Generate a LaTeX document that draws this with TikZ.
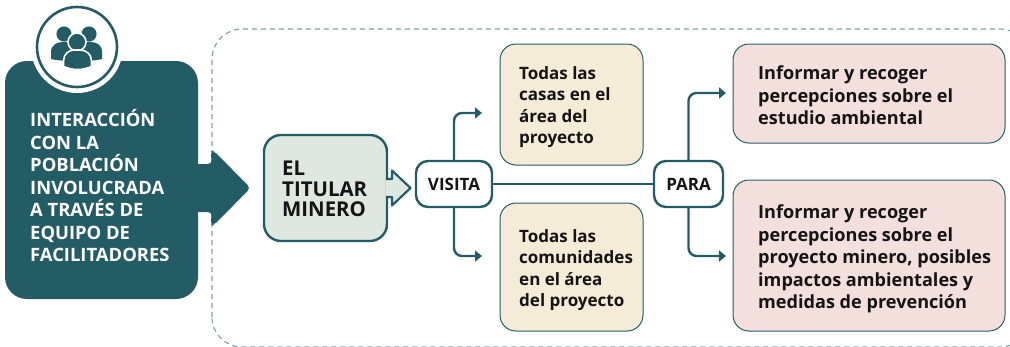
\documentclass[tikz,border=0pt]{standalone}
\usepackage{fontspec}
\setmainfont{Open Sans}
\usetikzlibrary{arrows.meta}
\definecolor{petrol}{HTML}{245C66}
\definecolor{dashline}{HTML}{7FA3AA}
\definecolor{sage}{HTML}{DFE7E1}
\definecolor{sand}{HTML}{F5ECD7}
\definecolor{blush}{HTML}{F3E0DD}
\definecolor{ink}{HTML}{141414}
\tikzset{
	basebox/.style={draw=petrol,anchor=center,inner sep=0pt,align=left,text=ink},
	keybox/.style={basebox,fill=white,line width=2.4pt,rounded corners=12pt,font=\fontsize{17}{20}\selectfont\bfseries},
	infobox/.style={basebox,line width=1pt,rounded corners=16pt},
	boxlabel/.style={inner sep=0pt,align=left,text=ink},
	flowline/.style={draw=petrol,line width=2.4pt,rounded corners=8pt},
	flowarrow/.style={flowline,-{Triangle[length=7pt,width=11pt]}},
}
\begin{document}
\begin{tikzpicture}[
		x={(1pt,0pt)},
		y={(0pt,-1pt)},
	]
	\useasboundingbox (0,0) rectangle (1010,346);
	\draw[dashline,line width=1.2pt,dash pattern=on 5pt off 4pt,rounded corners=30pt] (212,347) rectangle (1030,29);

	\node[fill=petrol,rounded corners=22pt,minimum width=193pt,minimum height=238pt,inner sep=0pt] (panel) at (101.5,180) {};
	\node[anchor=west,inner sep=0pt,align=left,text=white,font=\fontsize{18.4}{22.5}\selectfont\bfseries] (paneltext) at (30,186) {INTERACCIÓN\\CON LA\\POBLACIÓN\\INVOLUCRADA\\A TRAVÉS DE\\EQUIPO DE\\FACILITADORES};

	\node[circle,fill=white,minimum size=92pt,inner sep=0pt] (halo) at (77,47) {};
	\node[circle,draw=petrol,fill=white,line width=2.6pt,minimum size=80pt,inner sep=0pt] (badge) at (77,47) {};
	\foreach \x in {64,89}{
		\fill[petrol] (\x,34) circle (7.6);
	}
	\fill[petrol] (51,59) -- (51,52) .. controls (51,45) and (57,42) .. (63,42) -- (90,42) .. controls (97,42) and (102,45) .. (102,52) -- (102,59) .. controls (90,62) and (64,62) .. (51,59) -- cycle;
	\fill[petrol,draw=white,line width=1.6pt] (77,42) circle (9);
	\fill[petrol,draw=white,line width=1.6pt] (63.5,66.5) -- (63.5,61) .. controls (63.5,54) and (69,50) .. (74,50) -- (80,50) .. controls (86,50) and (91.5,54) .. (91.5,61) -- (91.5,66.5) .. controls (82,70.5) and (73,70.5) .. (63.5,66.5) -- cycle;

	\fill[petrol,rounded corners=4pt] (195,164) -- (212,164) -- (210.5,151) -- (214,151) -- (250.5,188) -- (214,225) -- (210.5,225) -- (212,212) -- (195,212) -- cycle;

	\node[basebox,fill=sage,line width=2.4pt,rounded corners=17pt,minimum width=123pt,minimum height=106pt] (titular) at (325.5,188) {};
	\node[boxlabel,anchor=west,font=\fontsize{20.4}{20.8}\selectfont\bfseries] (titulartext) at (282,189) {EL\\TITULAR\\MINERO};
	\draw[petrol,fill=sage,line width=2.2pt,line join=round] (386,179) -- (392,179) -- (392,170.5) -- (410.5,188) -- (392,205.5) -- (392,197) -- (386,197);

	\node[keybox,minimum width=76pt,minimum height=46pt] (visita) at (454,184) {VISITA};
	\node[keybox,minimum width=69pt,minimum height=46pt] (para) at (688.5,184) {PARA};
	\draw[flowline] (visita) -- (para);

	\foreach \n/\cx/\cy/\bw/\bh/\tx/\ty/\fs/\ls/\col/\txt in {
		casas/571.5/104.5/143/121/519/107/17/21.3/sand/{Todas las\\casas en el\\área del\\proyecto},
		comunidades/571.5/267/143/128/519/270/17/21.3/sand/{Todas las\\comunidades\\en el área\\del proyecto},
		estudio/869/93.5/272/99/758/95.5/18.1/22.5/blush/{Informar y recoger\\percepciones sobre el\\estudio ambiental},
		impactos/869/255.5/272/151/758/259/18.1/22.5/blush/{Informar y recoger\\percepciones sobre el\\proyecto minero, posibles\\impactos ambientales y\\medidas de prevención}}{
		\node[infobox,fill=\col,minimum width=\bw pt,minimum height=\bh pt] (\n) at (\cx,\cy) {};
		\node[boxlabel,anchor=west,font=\fontsize{\fs}{\ls}\selectfont\bfseries] (\n text) at (\tx,\ty) {\txt};
	}

	\coordinate (casastip) at (482,113);
	\coordinate (comunidadestip) at (482,256);
	\coordinate (estudiotip) at (726,93);
	\coordinate (impactostip) at (726,256);
	\draw[flowarrow] (visita.north) |- (casastip);
	\draw[flowarrow] (visita.south) |- (comunidadestip);
	\draw[flowarrow] (para.north) |- (estudiotip);
	\draw[flowarrow] (para.south) |- (impactostip);
\end{tikzpicture}
\end{document}
